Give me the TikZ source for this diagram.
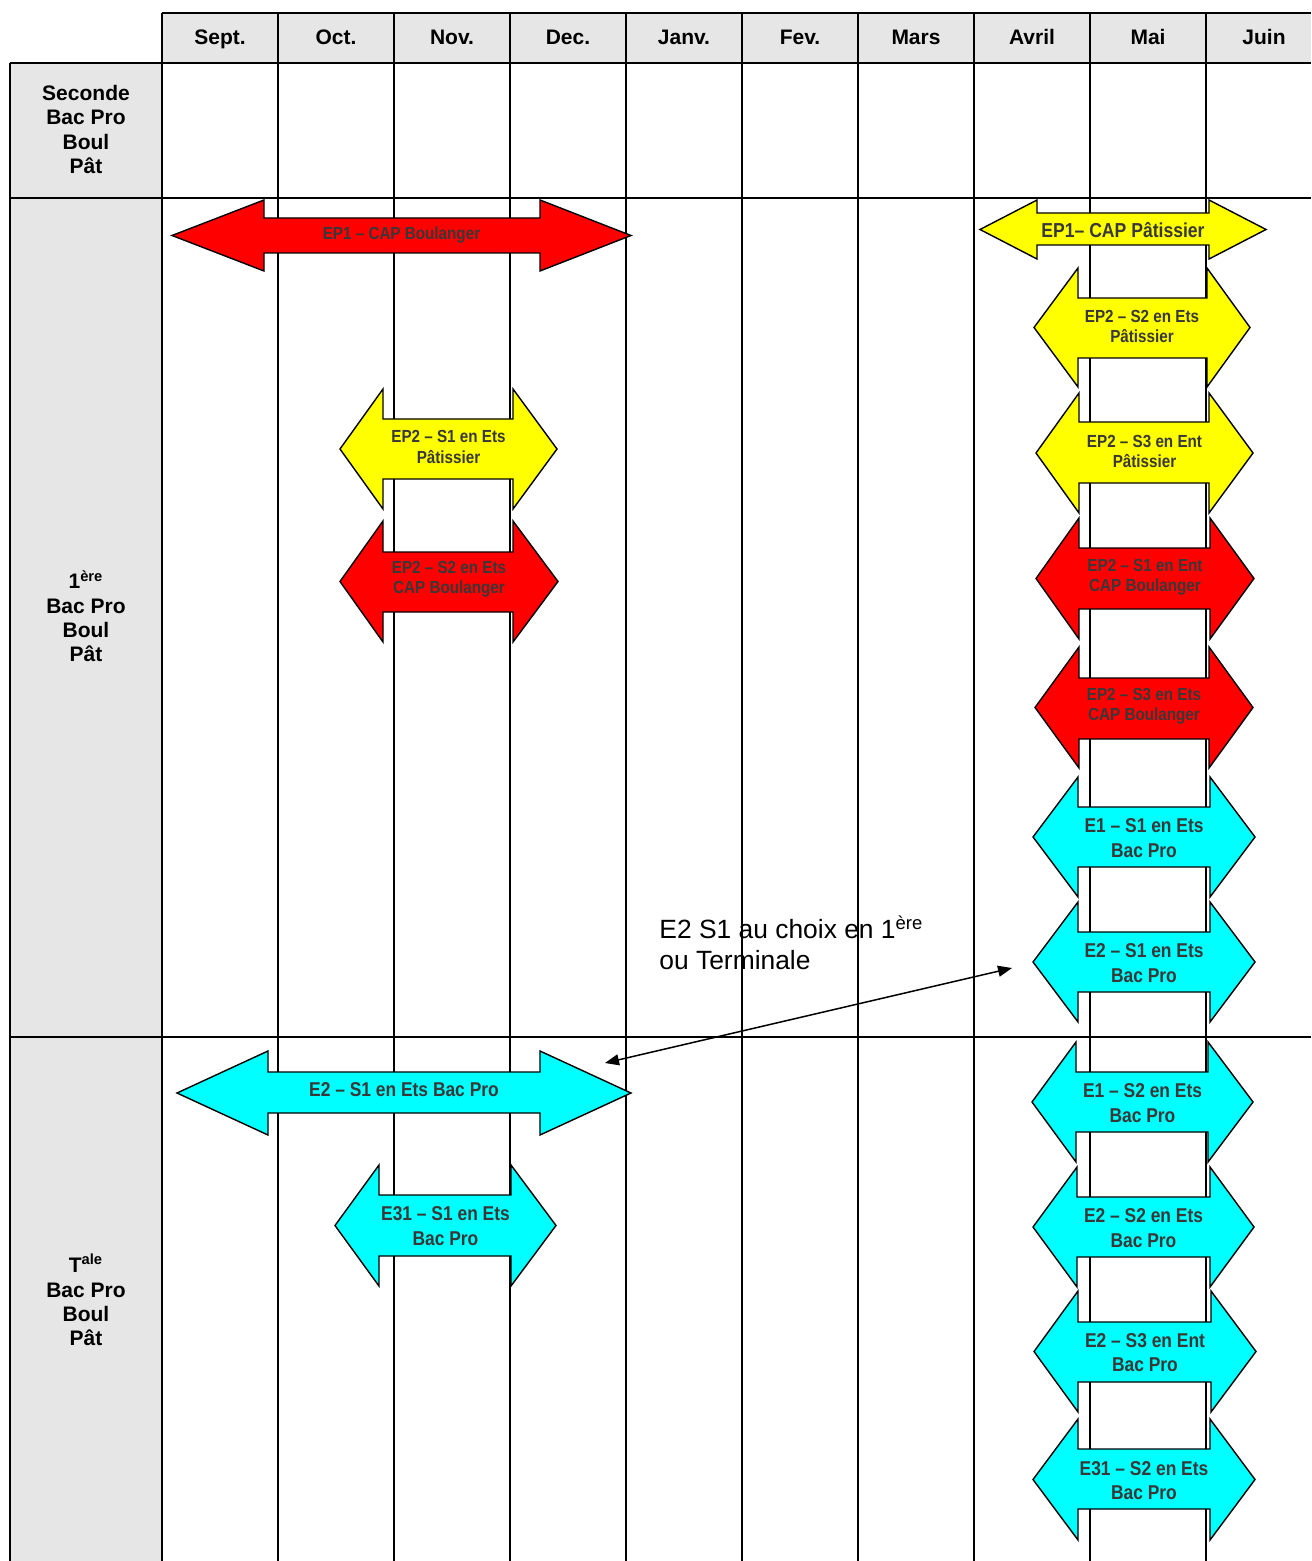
\documentclass[tikz,border=0pt]{standalone}
\usepackage{fontspec}
\setmainfont{Liberation Sans}
\newfontfamily\narrowfont[FakeStretch=0.87]{Liberation Sans}
\usetikzlibrary{arrows.meta}
\definecolor{cellgray}{HTML}{E6E6E6}
\definecolor{txtgray}{HTML}{383838}
\definecolor{arred}{HTML}{FF0000}
\definecolor{aryellow}{HTML}{FFFF00}
\definecolor{arcyan}{HTML}{00FFFF}
% #1 colour, #2 left tip x, #3 left notch x, #4 right notch x, #5 right tip x,
% #6 head top y, #7 shaft top y, #8 shaft bottom y, #9 head bottom y
\newcommand\blockarrow[9]{%
  \filldraw[blockout, fill=#1] (#2,{(#6+#9)/2}) -- (#3,#6) -- (#3,#7) -- (#4,#7) -- (#4,#6)
    -- (#5,{(#6+#9)/2}) -- (#4,#9) -- (#4,#8) -- (#3,#8) -- (#3,#9) -- cycle;}
\begin{document}
\begin{tikzpicture}[x=0.5pt,y=-0.5pt,
  grid/.style={line width=0.9pt, black},
  blockout/.style={draw=black, line width=0.7pt, line join=miter},
  hdr/.style={font=\bfseries\fontsize{10.5}{12.1}\selectfont, anchor=base, inner sep=0pt},
  rowlbl/.style={font=\bfseries\fontsize{10.5}{12.1}\selectfont, align=center, inner sep=0pt},
  eptxt/.style={font=\narrowfont\bfseries\fontsize{8.75}{10.2}\selectfont, text=txtgray, align=center, inner sep=0pt},
  bigtxt/.style={font=\narrowfont\bfseries\fontsize{10}{12.3}\selectfont, text=txtgray, align=center, inner sep=0pt},
  note/.style={font=\fontsize{13.2}{15.5}\selectfont, align=left, inner sep=0pt},
  conn/.style={{Triangle[length=7pt,width=5.5pt]}-{Triangle[length=7pt,width=5.5pt]}, line width=0.75pt}]
\useasboundingbox (0,0) rectangle (1311,1561);
% cell fills
\fill[cellgray] (162,13) rectangle (1311,63);
\fill[cellgray] (10,63) rectangle (162,1561);
% table lines
\draw[grid] (162,13) -- (1311,13);
\draw[grid] (10,63) -- (1311,63);
\draw[grid] (10,198) -- (1311,198);
\draw[grid] (10,1037) -- (1311,1037);
\draw[grid] (10,63) -- (10,1561);
\foreach \x in {162,278,...,1206} \draw[grid] (\x,13) -- (\x,1561);
% month headers
\foreach \m [count=\i] in {Sept.,Oct.,Nov.,Dec.,Janv.,Fev.,Mars,Avril,Mai,Juin}
  \node[hdr] (h\i) at ({104+116*\i},44.5) {\m};
% row labels
\node[rowlbl] (r1) at (86,129.5) {Seconde\\Bac Pro\\Boul\\Pât};
\node[rowlbl] (r2) at (86,616) {1\textsuperscript{ère}\\Bac Pro\\Boul\\Pât};
\node[rowlbl] (r3) at (86,1300) {T\textsuperscript{ale}\\Bac Pro\\Boul\\Pât};
% block arrows
\blockarrow{arred}{172}{264}{540}{631}{200}{218}{253}{271}
\node[eptxt] (a1) at (401.5,235.5) {EP1 – CAP Boulanger};
\blockarrow{aryellow}{980}{1037}{1209}{1266}{200}{213}{245}{259}
\node[eptxt, font=\narrowfont\bfseries\fontsize{10.1}{12}\selectfont] (a2) at (1123,230.5) {EP1– CAP Pâtissier};
\blockarrow{aryellow}{1034}{1078}{1207}{1250}{268}{298}{358}{387}
\node[eptxt] (a3) at (1142,326.5) {EP2 – S2 en Ets\\Pâtissier};
\blockarrow{aryellow}{1036}{1079}{1209}{1253}{393}{422}{483}{513}
\node[eptxt] (a4) at (1144.5,451.5) {EP2 – S3 en Ent\\Pâtissier};
\blockarrow{arred}{1036}{1079}{1210}{1254}{518}{548}{609}{639}
\node[eptxt] (a5) at (1145,577.5) {EP2 – S1 en Ent\\CAP Boulanger};
\blockarrow{arred}{1035}{1079}{1209}{1253}{647}{678}{739}{768}
\node[eptxt] (a6) at (1144,706.5) {EP2 – S3 en Ets\\CAP Boulanger};
\blockarrow{arcyan}{1033}{1078}{1210}{1255}{777}{807}{867}{897}
\node[bigtxt] (a7) at (1144,838) {E1 – S1 en Ets\\Bac Pro};
\blockarrow{arcyan}{1033}{1078}{1210}{1255}{902}{932}{992}{1022}
\node[bigtxt] (a8) at (1144,963) {E2 – S1 en Ets\\Bac Pro};
\blockarrow{arcyan}{1032}{1076}{1208}{1253}{1042}{1072}{1132}{1162}
\node[bigtxt] (a9) at (1142.5,1103) {E1 – S2 en Ets\\Bac Pro};
\blockarrow{arcyan}{1033}{1077}{1210}{1254}{1167}{1197}{1257}{1287}
\node[bigtxt] (a10) at (1143.5,1228) {E2 – S2 en Ets\\Bac Pro};
\blockarrow{arcyan}{1034}{1078}{1211}{1256}{1291}{1322}{1382}{1412}
\node[bigtxt] (a11) at (1145,1352.5) {E2 – S3 en Ent\\Bac Pro};
\blockarrow{arcyan}{1033}{1078}{1210}{1255}{1419}{1449}{1509}{1540}
\node[bigtxt] (a12) at (1144,1480.5) {E31 – S2 en Ets\\Bac Pro};
\blockarrow{aryellow}{340}{383}{513}{557}{389}{419}{479}{509}
\node[eptxt] (a13) at (448.5,447) {EP2 – S1 en Ets\\Pâtissier};
\blockarrow{arred}{340}{383}{513}{558}{521}{552}{612}{642}
\node[eptxt] (a14) at (449,579.5) {EP2 – S2 en Ets\\CAP Boulanger};
\blockarrow{arcyan}{177}{268}{540}{631}{1051}{1072}{1113}{1135}
\node[bigtxt] (a15) at (404,1090) {E2 – S1 en Ets Bac Pro};
\blockarrow{arcyan}{335}{379}{511}{556}{1165}{1195}{1256}{1286}
\node[bigtxt] (a16) at (445.5,1226) {E31 – S1 en Ets\\Bac Pro};
% note and connector
\node[note, anchor=base west] (note) at (659,969) {E2 S1 au choix en 1\textsuperscript{ère}\\ou Terminale};
\coordinate (cR) at (1012,968);
\coordinate (cL) at (605,1063);
\draw[conn] (cL) -- (cR);
\end{tikzpicture}
\end{document}
